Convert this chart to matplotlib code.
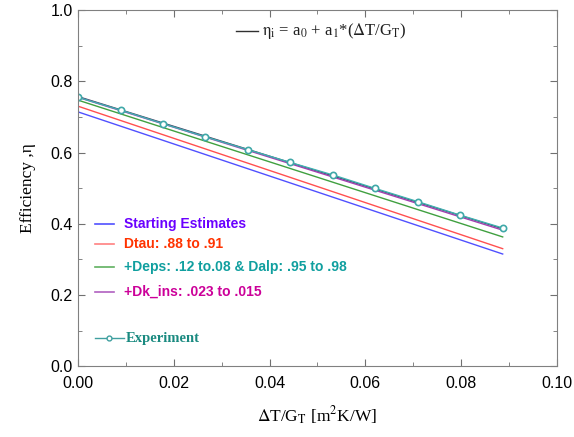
import numpy as np
import matplotlib.pyplot as plt
from matplotlib.ticker import MultipleLocator

plt.rcParams['mathtext.fontset'] = 'stix'

# experimental points
x_exp = [0.0, 0.00887, 0.01774, 0.02661, 0.03548, 0.04435, 0.05322, 0.06209, 0.07096, 0.07983, 0.0887]
y_exp = [0.755, 0.719, 0.681, 0.644, 0.608, 0.572, 0.537, 0.499, 0.462, 0.424, 0.388]

# model lines (linear, end points)
x_mod = [0.0, 0.0887]
y_start = [0.714, 0.315]
y_dtau = [0.730, 0.330]
y_deps = [0.747, 0.363]
y_dk = [0.755, 0.382]
y_eq = [0.757, 0.386]

fig = plt.figure(figsize=(5.74, 4.37), dpi=100)
ax = fig.add_axes([0.136, 0.162, 0.834, 0.815])

ax.plot(x_mod, y_start, color='#5050ff', lw=1)
ax.plot(x_mod, y_dtau, color='#ff5050', lw=1)
ax.plot(x_mod, y_deps, color='#40a040', lw=1)
ax.plot(x_mod, y_eq, color='#404060', lw=1)
ax.plot(x_mod, y_dk, color='#a040b0', lw=1)
ax.plot(x_exp, y_exp, color='#40b0b0', lw=1, marker='o', ms=4.5,
        mfc='white', mec='#40a8a8', mew=1.2)

ax.set_xlim(0, 0.10)
ax.set_ylim(0, 1.0)
ax.xaxis.set_major_locator(MultipleLocator(0.02))
ax.xaxis.set_minor_locator(MultipleLocator(0.01))
ax.yaxis.set_major_locator(MultipleLocator(0.2))
ax.yaxis.set_minor_locator(MultipleLocator(0.1))
ax.tick_params(which='both', direction='in', top=True, right=True, color='#707070')
ax.tick_params(which='major', length=5, labelsize=11.5, pad=4)
ax.tick_params(axis='x', which='major', pad=7)
ax.tick_params(which='minor', length=3)
ax.xaxis.set_major_formatter(plt.FuncFormatter(lambda v, p: '%.2f' % v))
ax.yaxis.set_major_formatter(plt.FuncFormatter(lambda v, p: '%.1f' % v))
for lab in ax.get_xticklabels() + ax.get_yticklabels():
    lab.set_family('Liberation Sans')
for s in ax.spines.values():
    s.set_color('#808080')

ax.set_xlabel(r'$\Delta$T/G$_\mathrm{T}$ [m$^2$K/W]', family='Liberation Serif', fontsize=12.5, labelpad=10)
ax.set_ylabel('Efficiency ,η', family='Liberation Serif', fontsize=12.5, labelpad=10)

# equation legend
ax.plot([0.0330, 0.0375], [0.94, 0.94], color='#303030', lw=1)
ax.text(0.0385, 0.94, r'$\mathrm{\eta_i}$ = a$_0$ + a$_1$*($\Delta$T/G$_\mathrm{T}$)',
        family='Liberation Serif', fontsize=12, va='center', color='#202020')

# lower legend
leg_labels = ['Starting Estimates', 'Dtau: .88 to .91', '+Deps: .12 to.08 & Dalp: .95 to .98',
              '+Dk_ins: .023 to .015']
leg_lcol = ['#5050ff', '#ff8080', '#60b060', '#b060c0']
leg_tcol = ['#6a00ff', '#ff3300', '#109f9f', '#cc0099']
leg_y = [0.40, 0.343, 0.278, 0.208]
for lab, lc, tc, yy in zip(leg_labels, leg_lcol, leg_tcol, leg_y):
    ax.plot([0.0035, 0.0075], [yy, yy], color=lc, lw=1.2)
    ax.text(0.0095, yy, lab, color=tc, fontsize=10, fontweight='bold',
            family='Liberation Sans', va='center')
ax.plot([0.0035, 0.0095], [0.078, 0.078], color='#40a0a0', lw=1)
ax.plot([0.0065], [0.078], marker='o', ms=3.5, mfc='white', mec='#40a0a0')
ax.text(0.0100, 0.078, 'Experiment', color='#1a8a80', fontsize=10.5, fontweight='bold',
        family='Liberation Serif', va='center')

fig.savefig('out.png', dpi=100)
